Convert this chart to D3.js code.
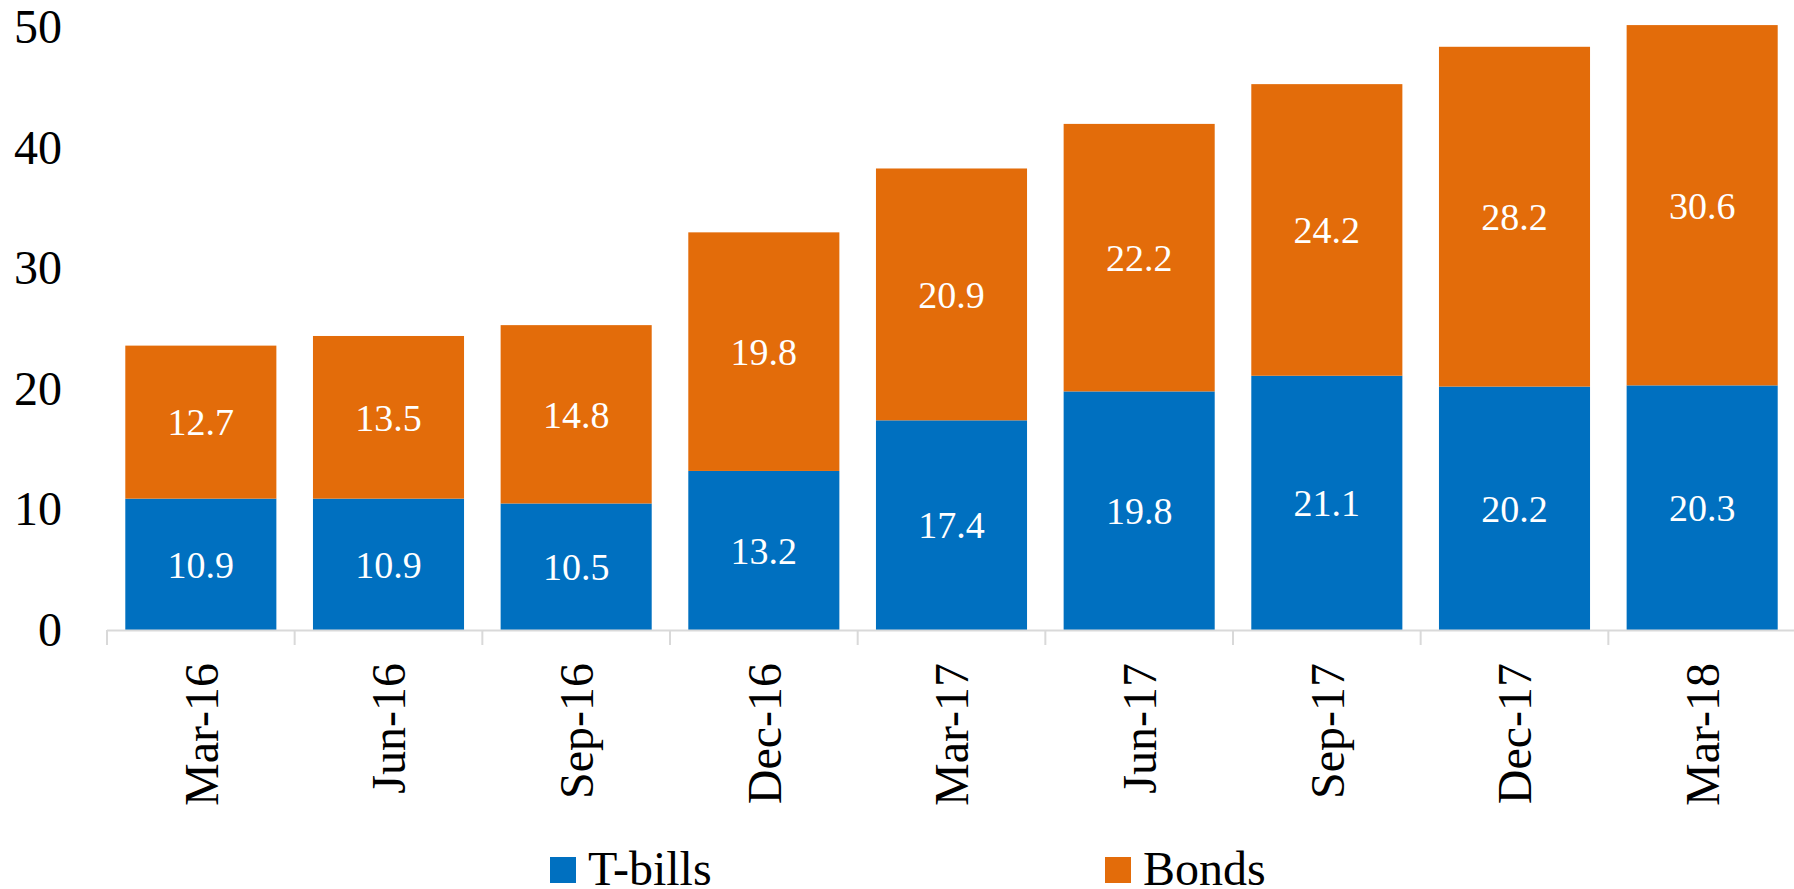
<!DOCTYPE html>
<html>
<head>
<meta charset="utf-8">
<script src="https://cdn.jsdelivr.net/npm/d3@7"></script>
<style>
  html, body { margin: 0; padding: 0; background: #ffffff; }
  svg { display: block; font-family: "Liberation Serif", "Times New Roman", serif; }
</style>
</head>
<body>
<svg id="chart" width="1794" height="889"></svg>
<script>
const categories = ["Mar-16", "Jun-16", "Sep-16", "Dec-16", "Mar-17", "Jun-17", "Sep-17", "Dec-17", "Mar-18"];
const tbills = [10.9, 10.9, 10.5, 13.2, 17.4, 19.8, 21.1, 20.2, 20.3];
const bonds = [12.7, 13.5, 14.8, 19.8, 20.9, 22.2, 24.2, 28.2, 29.9];
const tbillLabels = ["10.9", "10.9", "10.5", "13.2", "17.4", "19.8", "21.1", "20.2", "20.3"];
const bondLabels = ["12.7", "13.5", "14.8", "19.8", "20.9", "22.2", "24.2", "28.2", "30.6"];
const yTicks = [0, 10, 20, 30, 40, 50];
const seriesNames = ["T-bills", "Bonds"];
const colors = ["#0070c0", "#e36c0a"];

const svg = d3.select("#chart");
const x0 = 107, x1 = 1796, yBase = 630, yTop = 27.5;

const x = d3.scaleBand().domain(categories).range([x0, x1]).paddingInner(0.195).paddingOuter(0.0975);
const y = d3.scaleLinear().domain([0, 50]).range([yBase, yTop]);

const rows = categories.map((c, i) => ({ cat: c, tbills: tbills[i], bonds: bonds[i], tl: tbillLabels[i], bl: bondLabels[i] }));
const stack = d3.stack().keys(["tbills", "bonds"])(rows);

// y axis labels
const yAxis = d3.axisLeft(y).tickValues(yTicks).tickSize(0).tickPadding(45).tickFormat(d3.format("d"));
const gy = svg.append("g").attr("transform", `translate(${x0},0)`).call(yAxis);
gy.select(".domain").remove();
gy.selectAll("text").attr("font-size", 48).attr("fill", "#000").attr("font-family", "Liberation Serif, serif");

// bars
const layers = svg.append("g").selectAll("g").data(stack).join("g").attr("fill", (d, i) => colors[i]);
layers.selectAll("rect").data(d => d).join("rect")
  .attr("x", d => x(d.data.cat))
  .attr("width", x.bandwidth())
  .attr("y", d => y(d[1]))
  .attr("height", d => y(d[0]) - y(d[1]));

// data labels
stack.forEach((layer, li) => {
  svg.append("g").selectAll("text").data(layer).join("text")
    .attr("x", d => x(d.data.cat) + x.bandwidth() / 2)
    .attr("y", d => (y(d[0]) + y(d[1])) / 2)
    .attr("dy", "0.35em")
    .attr("text-anchor", "middle")
    .attr("font-size", 38)
    .attr("fill", "#ffffff")
    .text(d => li === 0 ? d.data.tl : d.data.bl);
});

// x axis line and boundary ticks
const step = x.step();
const gx = svg.append("g");
gx.append("line").attr("x1", x0).attr("x2", x1).attr("y1", yBase + 0.5).attr("y2", yBase + 0.5)
  .attr("stroke", "#d9d9d9").attr("stroke-width", 2);
const bounds = d3.range(categories.length + 1).map(i => x0 + i * step);
gx.selectAll("line.tick").data(bounds).join("line").attr("class", "tick")
  .attr("x1", d => d).attr("x2", d => d).attr("y1", yBase).attr("y2", yBase + 15)
  .attr("stroke", "#d9d9d9").attr("stroke-width", 2);

// category labels rotated
gx.selectAll("text.cat").data(categories).join("text").attr("class", "cat")
  .attr("transform", d => `translate(${x(d) + x.bandwidth() / 2},663) rotate(-90)`)
  .attr("text-anchor", "end")
  .attr("dy", "0.35em")
  .attr("font-size", 48)
  .attr("fill", "#000")
  .text(d => d);

// legend
const legendX = [550, 1105];
const lg = svg.append("g").selectAll("g").data(seriesNames).join("g")
  .attr("transform", (d, i) => `translate(${legendX[i]},857)`);
lg.append("rect").attr("width", 26).attr("height", 26).attr("fill", (d, i) => colors[i]);
lg.append("text").attr("x", 38).attr("y", 28).attr("font-size", 48).attr("fill", "#000").text(d => d);
</script>
</body>
</html>
